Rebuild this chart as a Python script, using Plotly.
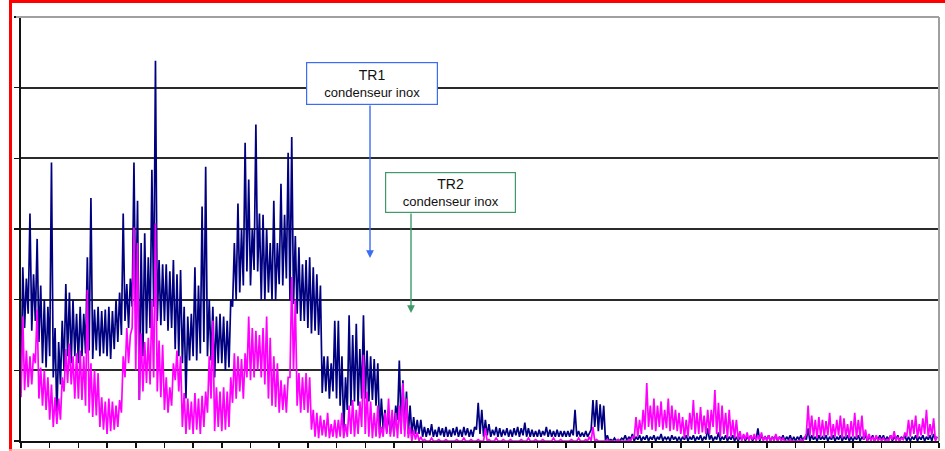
import plotly.graph_objects as go

# ---- data (arbitrary units, gridline every 50) ----
# Each series is sampled in bins of 1/8 of an x-tick interval; for each bin the
# lowest and highest value reached inside the bin were read off the picture.
bin_width = 0.125

tr1_low = [
    34, 80, 90, 78, 85, 70, 55, 52,
    60, 45, 17, 40, 50, 60, 55, 60,
    55, 60, 62, 64, 58, 64, 60, 62,
    60, 58, 65, 70, 75, 85, 80, 95,
    90, 29, 60, 76, 80, 95, 85, 82,
    85, 78, 80, 65, 60, 55, 30, 57,
    60, 57, 62, 70, 60, 57, 45, 55,
    55, 50, 52, 95, 100, 105, 110, 120,
    110, 121, 120, 100, 100, 105, 100, 100,
    111, 110, 115, 100, 97, 90, 85, 85,
    80, 76, 78, 75, 34, 35, 30, 35,
    30, 25, 7, 22, 25, 28, 25, 30,
    30, 28, 29, 25, 5, 8, 6, 5,
    5, 15, 10, 8, 5, 5, 5, 5,
    3, 3, 4, 3, 3, 4, 3, 3,
    3, 4, 3, 3, 4, 3, 3, 8,
    5, 3, 4, 3, 4, 3, 3, 4,
    3, 3, 4, 3, 4, 3, 3, 3,
    3, 3, 4, 3, 3, 3, 3, 3,
    3, 3, 4, 3, 3, 3, 3, 8,
    10, 7, 8, 0, 0, 0, 0, 0,
    1, 0, 1, 0, 1, 0, 1, 0,
    1, 0, 1, 0, 1, 0, 1, 0,
    0, 1, 0, 1, 0, 1, 0, 1,
    1, 0, 1, 0, 1, 0, 1, 0,
    0, 1, 0, 1, 0, 1, 0, 1,
    1, 0, 1, 0, 1, 0, 1, 0,
    0, 1, 0, 1, 0, 1, 0, 1,
    1, 0, 1, 0, 1, 0, 1, 0,
    0, 1, 0, 1, 0, 1, 0, 1,
    1, 0, 1, 0, 1, 0, 1, 0,
    0, 1, 0, 1, 0, 1, 0, 1,
]
tr1_high = [
    123, 115, 161, 118, 143, 110, 100, 95,
    197, 80, 70, 85, 111, 105, 100, 90,
    95, 90, 130, 172, 93, 95, 92, 93,
    95, 92, 100, 105, 161, 111, 115, 197,
    170, 140, 147, 130, 192, 269, 128, 125,
    125, 120, 128, 118, 121, 95, 88, 90,
    123, 110, 166, 194, 100, 95, 88, 90,
    88, 85, 100, 140, 168, 150, 211, 185,
    150, 224, 161, 160, 150, 140, 170, 140,
    182, 160, 204, 215, 145, 137, 125, 128,
    130, 123, 118, 110, 60, 60, 55, 85,
    85, 60, 45, 89, 75, 83, 65, 89,
    64, 60, 58, 55, 30, 22, 20, 18,
    25, 57, 43, 35, 25, 17, 15, 15,
    10, 9, 12, 8, 10, 9, 10, 8,
    9, 10, 8, 10, 9, 8, 10, 27,
    22, 15, 12, 8, 10, 9, 8, 9,
    8, 9, 10, 9, 13, 9, 8, 7,
    8, 7, 10, 8, 7, 8, 7, 7,
    7, 8, 22, 7, 6, 7, 6, 29,
    29, 26, 25, 4, 1, 2, 1, 2,
    4, 3, 5, 3, 4, 3, 4, 3,
    4, 3, 5, 3, 3, 4, 3, 3,
    3, 4, 3, 4, 3, 4, 3, 9,
    4, 3, 6, 3, 4, 3, 4, 3,
    3, 4, 3, 4, 3, 9, 4, 3,
    4, 3, 4, 3, 4, 3, 4, 3,
    3, 4, 3, 9, 4, 3, 4, 3,
    4, 3, 4, 3, 4, 3, 4, 3,
    3, 4, 3, 4, 3, 4, 3, 4,
    4, 3, 4, 3, 4, 3, 4, 3,
    3, 4, 3, 4, 3, 4, 5, 3,
]

tr2_low = [
    31, 36, 38, 40, 55, 30, 25, 22,
    15, 10, 12, 15, 35, 41, 40, 30,
    30, 29, 25, 20, 17, 18, 10, 8,
    5, 7, 8, 10, 20, 45, 55, 80,
    50, 29, 35, 41, 40, 45, 35, 31,
    22, 20, 25, 43, 35, 10, 5, 8,
    5, 8, 5, 10, 20, 30, 7, 10,
    7, 8, 10, 27, 30, 35, 30, 45,
    43, 45, 50, 45, 40, 30, 25, 24,
    20, 22, 20, 45, 50, 25, 20, 22,
    20, 8, 3, 2, 4, 3, 2, 3,
    2, 3, 2, 3, 5, 3, 5, 10,
    5, 3, 2, 3, 2, 3, 5, 3,
    3, 2, 5, 3, 2, 0, 1, 0,
    0, 0, 0, 0, 0, 0, 0, 0,
    0, 0, 0, 0, 0, 0, 0, 0,
    0, 0, 0, 0, 0, 0, 0, 0,
    0, 0, 0, 0, 0, 0, 0, 0,
    0, 0, 0, 0, 0, 0, 0, 0,
    0, 0, 0, 0, 0, 0, 0, 0,
    0, 0, 0, 0, 0, 0, 0, 0,
    0, 0, 0, 2, 3, 5, 8, 10,
    8, 7, 10, 8, 9, 7, 8, 7,
    5, 2, 3, 8, 5, 5, 6, 5,
    5, 10, 5, 3, 5, 2, 3, 2,
    1, 0, 1, 0, 1, 0, 1, 0,
    0, 0, 0, 0, 0, 0, 0, 0,
    0, 0, 0, 5, 4, 3, 2, 3,
    3, 4, 2, 3, 4, 2, 3, 2,
    3, 2, 3, 1, 0, 0, 0, 0,
    0, 0, 0, 1, 0, 0, 1, 3,
    3, 5, 2, 4, 5, 3, 4, 0,
]
tr2_high = [
    88, 64, 60, 62, 93, 52, 50, 45,
    40, 31, 30, 45, 65, 69, 60, 62,
    64, 60, 107, 55, 50, 48, 31, 28,
    30, 28, 25, 29, 60, 80, 75, 151,
    140, 76, 70, 73, 100, 154, 71, 68,
    45, 38, 55, 64, 60, 34, 30, 28,
    34, 30, 32, 35, 60, 85, 38, 35,
    38, 35, 45, 62, 60, 58, 62, 88,
    80, 78, 75, 80, 88, 73, 60, 55,
    43, 40, 45, 116, 100, 48, 45, 48,
    45, 22, 20, 18, 15, 20, 12, 15,
    15, 20, 12, 25, 29, 22, 28, 61,
    35, 28, 20, 25, 10, 20, 30, 22,
    20, 25, 41, 30, 10, 8, 6, 3,
    1, 0, 2, 0, 1, 0, 1, 0,
    0, 1, 0, 2, 0, 1, 0, 1,
    0, 9, 1, 0, 2, 0, 1, 0,
    1, 0, 0, 1, 0, 2, 0, 1,
    0, 1, 0, 0, 2, 0, 1, 0,
    0, 1, 0, 2, 0, 1, 3, 10,
    1, 0, 0, 1, 0, 0, 1, 0,
    0, 1, 3, 17, 15, 22, 41, 25,
    30, 25, 28, 22, 30, 25, 22, 20,
    17, 15, 20, 29, 20, 24, 18, 22,
    22, 36, 27, 25, 20, 22, 15, 15,
    7, 5, 6, 4, 5, 4, 6, 3,
    4, 3, 5, 3, 2, 0, 1, 0,
    0, 1, 2, 25, 18, 15, 17, 15,
    14, 20, 12, 15, 18, 16, 12, 14,
    20, 15, 18, 8, 5, 3, 4, 2,
    2, 1, 4, 7, 3, 2, 6, 15,
    15, 18, 12, 16, 22, 12, 16, 3,
]

x_ticks = list(range(0, 33))
y_ticks = [0, 50, 100, 150, 200, 250, 300]

labels = ["TR1", "TR2"]
sublabel = "condenseur inox"


def zigzag(low, high):
    """Trace each bin as its low value then its high value."""
    xs, ys = [], []
    for i, (lo, hi) in enumerate(zip(low, high)):
        xs += [i * bin_width, (i + 0.5) * bin_width]
        ys += [lo, hi]
    return xs, ys


x1, y1 = zigzag(tr1_low, tr1_high)
x2, y2 = zigzag(tr2_low, tr2_high)

# ---- layout geometry (pixels) ----
W, H = 945, 451
ML, MR, MT, MB = 21, 6, 17, 10
PW = W - ML - MR
PH = H - MT - MB


def px(x):
    return (x - ML) / PW


def py(y):
    return (H - MB - y) / PH


fig = go.Figure()
fig.add_trace(go.Scatter(x=x1, y=y1, mode="lines",
                         line=dict(color="#000080", width=1.7), name=labels[0],
                         hoverinfo="skip"))
fig.add_trace(go.Scatter(x=x2, y=y2, mode="lines",
                         line=dict(color="#ff00ff", width=1.7), name=labels[1],
                         hoverinfo="skip"))

fig.update_layout(
    width=W, height=H,
    margin=dict(l=ML, r=MR, t=MT, b=MB, pad=0),
    paper_bgcolor="white", plot_bgcolor="white",
    showlegend=False,
    font=dict(family="Liberation Sans, Arial, sans-serif", color="#111"),
)
fig.update_xaxes(range=[0, 32], tickvals=x_ticks, showticklabels=False,
                 ticks="outside", ticklen=5, tickwidth=1.5, tickcolor="#111",
                 showgrid=False, zeroline=False,
                 showline=True, linecolor="#111", linewidth=2)
fig.update_yaxes(range=[0, 300], tickvals=y_ticks, showticklabels=False,
                 ticks="outside", ticklen=5, tickwidth=1.5, tickcolor="#111",
                 showgrid=True, gridcolor="#2a2a2a", gridwidth=2, zeroline=False,
                 showline=True, linecolor="#111", linewidth=2)

# plot-area border (grey top and right)
fig.add_shape(type="line", xref="paper", yref="paper", x0=px(16), x1=1, y0=1, y1=1,
              line=dict(color="#a0a0a0", width=2), layer="above")
fig.add_shape(type="line", xref="paper", yref="paper", x0=1, x1=1, y0=0, y1=1,
              line=dict(color="#a0a0a0", width=2), layer="above")

# red frame around the picture
fig.add_shape(type="line", xref="paper", yref="paper",
              x0=px(10.5), x1=px(10.5), y0=py(0), y1=py(451),
              line=dict(color="#ff0000", width=3), layer="above")
fig.add_shape(type="line", xref="paper", yref="paper",
              x0=px(9), x1=px(945), y0=py(1.5), y1=py(1.5),
              line=dict(color="#ff0000", width=3), layer="above")
fig.add_shape(type="line", xref="paper", yref="paper",
              x0=px(9), x1=px(945), y0=py(450), y1=py(450),
              line=dict(color="#ffb8b8", width=1.5), layer="above")

# annotation boxes
boxes = [
    dict(label=labels[0], cx=372, cy=83.5, w=126, h=37, color="#3a6cf6",
         ax=370, y_from=104, y_to=258),
    dict(label=labels[1], cx=450.5, cy=192.5, w=125, h=35, color="#3f9a6a",
         ax=411, y_from=212, y_to=313),
]
for b in boxes:
    fig.add_annotation(
        xref="paper", yref="paper", x=px(b["ax"]), y=py(b["y_to"]),
        ax=0, ay=-(b["y_to"] - b["y_from"]), text="", showarrow=True,
        arrowhead=2, arrowsize=1.1, arrowwidth=1.4, arrowcolor=b["color"],
        standoff=0, startstandoff=0)
    fig.add_annotation(
        xref="paper", yref="paper", x=px(b["cx"]), y=py(b["cy"]),
        xanchor="center", yanchor="middle", showarrow=False,
        text=f"<span style='font-size:14px'>{b['label']}</span><br>"
             f"<span style='font-size:13px'>{sublabel}</span>",
        width=b["w"], height=b["h"], borderpad=2, borderwidth=1.2,
        bordercolor=b["color"], bgcolor="white",
        font=dict(size=13, color="#111"))

fig.write_html(
    "out.html",
    config={"displayModeBar": False, "staticPlot": True},
    post_script="document.body.style.margin='0';document.body.style.padding='0';",
)
